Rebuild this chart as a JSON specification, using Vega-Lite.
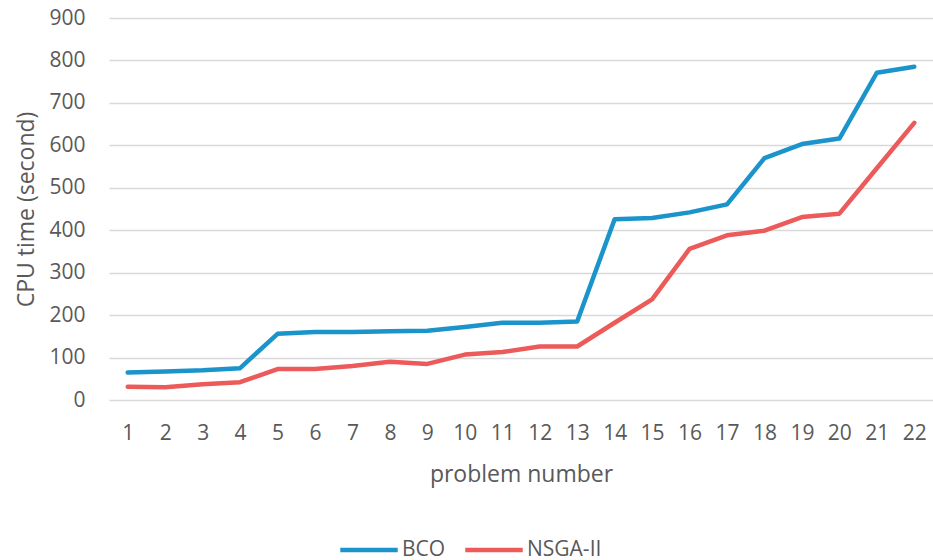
{
  "$schema": "https://vega.github.io/schema/vega-lite/v6.json",
  "autosize": {"type": "none"},
  "width": 824,
  "height": 382,
  "padding": {"left": 109, "top": 18, "right": 0, "bottom": 160},
  "background": "white",
  "config": {
    "view": {"stroke": null},
    "font": "Open Sans",
    "axis": {"labelColor": "#595959", "titleColor": "#595959", "labelFont": "Open Sans", "titleFont": "Open Sans", "titleFontWeight": "normal"}
  },
  "data": {
    "values": [
      {"p": 1, "s": "BCO", "t": 65}, {"p": 2, "s": "BCO", "t": 67}, {"p": 3, "s": "BCO", "t": 70}, {"p": 4, "s": "BCO", "t": 75},
      {"p": 5, "s": "BCO", "t": 156}, {"p": 6, "s": "BCO", "t": 160}, {"p": 7, "s": "BCO", "t": 160}, {"p": 8, "s": "BCO", "t": 162},
      {"p": 9, "s": "BCO", "t": 163}, {"p": 10, "s": "BCO", "t": 172}, {"p": 11, "s": "BCO", "t": 182}, {"p": 12, "s": "BCO", "t": 182},
      {"p": 13, "s": "BCO", "t": 185}, {"p": 14, "s": "BCO", "t": 426}, {"p": 15, "s": "BCO", "t": 429}, {"p": 16, "s": "BCO", "t": 442},
      {"p": 17, "s": "BCO", "t": 461}, {"p": 18, "s": "BCO", "t": 570}, {"p": 19, "s": "BCO", "t": 603}, {"p": 20, "s": "BCO", "t": 616},
      {"p": 21, "s": "BCO", "t": 771}, {"p": 22, "s": "BCO", "t": 785},
      {"p": 1, "s": "NSGA-II", "t": 31}, {"p": 2, "s": "NSGA-II", "t": 30}, {"p": 3, "s": "NSGA-II", "t": 37}, {"p": 4, "s": "NSGA-II", "t": 42},
      {"p": 5, "s": "NSGA-II", "t": 73}, {"p": 6, "s": "NSGA-II", "t": 73}, {"p": 7, "s": "NSGA-II", "t": 80}, {"p": 8, "s": "NSGA-II", "t": 90},
      {"p": 9, "s": "NSGA-II", "t": 85}, {"p": 10, "s": "NSGA-II", "t": 107}, {"p": 11, "s": "NSGA-II", "t": 113}, {"p": 12, "s": "NSGA-II", "t": 126},
      {"p": 13, "s": "NSGA-II", "t": 126}, {"p": 14, "s": "NSGA-II", "t": 182}, {"p": 15, "s": "NSGA-II", "t": 237}, {"p": 16, "s": "NSGA-II", "t": 356},
      {"p": 17, "s": "NSGA-II", "t": 388}, {"p": 18, "s": "NSGA-II", "t": 399}, {"p": 19, "s": "NSGA-II", "t": 431}, {"p": 20, "s": "NSGA-II", "t": 439},
      {"p": 21, "s": "NSGA-II", "t": 546}, {"p": 22, "s": "NSGA-II", "t": 653}
    ]
  },
  "mark": {"type": "line", "strokeWidth": 4.5, "strokeCap": "round", "strokeJoin": "round"},
  "encoding": {
    "x": {
      "field": "p", "type": "ordinal", "title": "problem number",
      "scale": {"padding": 0.5},
      "axis": {"labelAngle": 0, "labelFontSize": 21, "titleFontSize": 23, "labelPadding": 22, "titlePadding": 20, "domain": false, "ticks": false, "grid": false}
    },
    "y": {
      "field": "t", "type": "quantitative", "title": "CPU time (second)",
      "scale": {"domain": [0, 900], "nice": false},
      "axis": {"values": [0, 100, 200, 300, 400, 500, 600, 700, 800, 900], "labelFontSize": 21, "titleFontSize": 23, "labelPadding": 24, "titlePadding": 10, "domain": false, "ticks": false, "gridColor": "#d9d9d9", "gridWidth": 1.5}
    },
    "color": {
      "field": "s", "type": "nominal",
      "scale": {"domain": ["BCO", "NSGA-II"], "range": ["#1a94cb", "#ec5a5a"]},
      "legend": {"title": null, "orient": "none", "direction": "horizontal", "legendX": 229, "legendY": 501, "symbolType": "stroke", "symbolSize": 3300, "symbolStrokeWidth": 4.5, "labelFontSize": 21, "labelColor": "#595959", "labelFont": "Open Sans", "columnPadding": 10, "labelOffset": 2}
    }
  }
}
